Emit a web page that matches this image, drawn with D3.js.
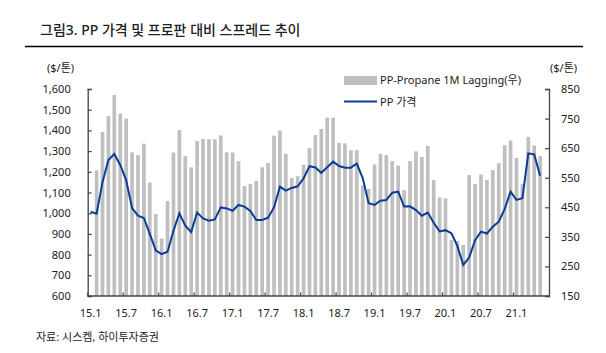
<!DOCTYPE html>
<html>
<head>
<meta charset="utf-8">
<script src="https://cdn.jsdelivr.net/npm/d3@7"></script>
<style>
  body{margin:0;background:#fff;}
  svg text{font-family:"Noto Sans","Noto Sans CJK KR",sans-serif;fill:#222;}
</style>
</head>
<body>
<div class="svgWrap"></div>
<script>
// month categories 15.1 .. 21.6
var months = [];
for (var yr = 15; yr <= 21; yr++) {
  for (var m = 1; m <= 12; m++) {
    if (yr == 21 && m > 6) break;
    months.push(yr + "." + m);
  }
}

// PP price, $/ton (left axis)
var ppPrice = [1007, 998, 1150, 1257, 1286, 1233, 1160, 1025, 988, 977, 900, 820,
  802, 814, 915, 999, 940, 909, 1003, 975, 964, 970, 1028, 1023,
  1012, 1040, 1032, 1011, 967, 967, 978, 1028, 1128, 1109, 1122, 1130,
  1168, 1227, 1221, 1195, 1222, 1249, 1228, 1220, 1220, 1240, 1170, 1048,
  1040, 1060, 1064, 1099, 1104, 1032, 1033, 1015, 988, 1003, 954, 912,
  918, 903, 842, 750, 786, 870, 911, 902, 935, 959, 1020, 1104,
  1064, 1072, 1289, 1284, 1181, null];

// PP - Propane spread, 1M lagging, $/ton (right axis)
var spread = [null, 575, 705, 758, 830, 767, 750, 636, 627, 665, 534, 427,
  345, 471, 635, 711, 623, 585, 674, 681, 680, 680, 693, 636,
  635, 606, 522, 529, 539, 585, 600, 692, 710, 631, 549, 555,
  594, 650, 694, 715, 753, 753, 668, 666, 643, 643, 523, 512,
  595, 631, 627, 606, 591, 508, 606, 639, 620, 657, 542, 483,
  480, 340, 336, 323, 559, 529, 561, 542, 576, 599, 660, 676,
  617, 528, 688, 659, 623, null];

var xTickLabels = ["15.1","15.7","16.1","16.7","17.1","17.7","18.1","18.7","19.1","19.7","20.1","20.7","21.1"];
var leftTicks = [600,700,800,900,1000,1100,1200,1300,1400,1500,1600];
var rightTicks = [150,250,350,450,550,650,750,850];

var W = 606, H = 353;
var pLeft = 87.7, pRight = 549, pTop = 89, pBottom = 296;

var svg = d3.select(".svgWrap")
  .append("svg")
  .attr("width", W)
  .attr("height", H);

var x = d3.scaleBand()
  .domain(months)
  .range([pLeft, pRight])
  .padding(0);
var bw = x.bandwidth();

var yL = d3.scaleLinear().domain([600,1600]).range([pBottom, pTop]);
var yR = d3.scaleLinear().domain([150,850]).range([pBottom, pTop]);

// Title
svg.append("text")
  .attr("x", 40)
  .attr("y", 35)
  .style("font-size", "14px")
  .style("font-weight", "500")
  .text("그림3. PP 가격 및 프로판 대비 스프레드 추이");

svg.append("line")
  .attr("x1", 25).attr("x2", 583)
  .attr("y1", 46.5).attr("y2", 46.5)
  .attr("stroke", "#000")
  .attr("stroke-width", 1.5);

// Bars
svg.selectAll("rect.bar")
  .data(spread.map(function(d,i){ return {m: months[i], v: d}; }).filter(function(d){ return d.v != null; }))
  .enter()
  .append("rect")
  .attr("class", "bar")
  .attr("x", function(d){ return x(d.m) + bw*0.19; })
  .attr("width", bw*0.62)
  .attr("y", function(d){ return yR(d.v); })
  .attr("height", function(d){ return yR(150) - yR(d.v); })
  .attr("fill", "#bfbfbf");

// Left axis
var gL = svg.append("g")
  .attr("transform", "translate(" + pLeft + ",0)")
  .call(d3.axisLeft(yL).tickValues(leftTicks).tickSize(-4).tickPadding(17).tickFormat(d3.format(",")));

// Right axis
var gR = svg.append("g")
  .attr("transform", "translate(" + pRight + ",0)")
  .call(d3.axisRight(yR).tickValues(rightTicks).tickSize(-4).tickPadding(12));

[gL, gR].forEach(function(g){
  g.select(".domain").attr("stroke", "#444").attr("stroke-width", 1.3);
  g.selectAll(".tick line").attr("stroke", "#444").attr("stroke-width", 1.2);
  g.selectAll("text").style("font-size", "11px").attr("fill", "#222");
});

// X axis
svg.append("line")
  .attr("x1", pLeft).attr("x2", pRight)
  .attr("y1", pBottom).attr("y2", pBottom)
  .attr("stroke", "#444").attr("stroke-width", 1.3);

svg.selectAll("line.xtick")
  .data(xTickLabels)
  .enter()
  .append("line")
  .attr("class", "xtick")
  .attr("x1", function(d){ return x(d); })
  .attr("x2", function(d){ return x(d); })
  .attr("y1", pBottom).attr("y2", pBottom - 3.5)
  .attr("stroke", "#444").attr("stroke-width", 1.2);

svg.selectAll("text.xlab")
  .data(xTickLabels)
  .enter()
  .append("text")
  .attr("class", "xlab")
  .attr("x", function(d){ return x(d) + bw/2; })
  .attr("y", 317)
  .attr("text-anchor", "middle")
  .style("font-size", "11px")
  .text(function(d){ return d; });

// PP price line
var line = d3.line()
  .defined(function(d){ return d != null; })
  .x(function(d,i){ return x(months[i]) + bw/2; })
  .y(function(d){ return yL(d); });

svg.append("path")
  .datum(ppPrice)
  .attr("d", line)
  .attr("fill", "none")
  .attr("stroke", "#0d3c96")
  .attr("stroke-width", 2);

// Unit labels
svg.append("text")
  .attr("x", 47).attr("y", 72)
  .style("font-size", "11px")
  .text("($/톤)");

svg.append("text")
  .attr("x", 550).attr("y", 72)
  .style("font-size", "11px")
  .text("($/톤)");

// Legend
svg.append("rect")
  .attr("x", 344).attr("y", 76)
  .attr("width", 33).attr("height", 9)
  .attr("fill", "#bfbfbf");

svg.append("text")
  .attr("x", 380).attr("y", 84)
  .style("font-size", "11px")
  .text("PP-Propane 1M Lagging(우)");

svg.append("line")
  .attr("x1", 344).attr("x2", 377)
  .attr("y1", 101.5).attr("y2", 101.5)
  .attr("stroke", "#0d3c96")
  .attr("stroke-width", 2);

svg.append("text")
  .attr("x", 380).attr("y", 106)
  .style("font-size", "11px")
  .text("PP 가격");

// Source
svg.append("text")
  .attr("x", 36).attr("y", 341)
  .style("font-size", "11px")
  .text("자료: 시스켐, 하이투자증권");
</script>
</body>
</html>
